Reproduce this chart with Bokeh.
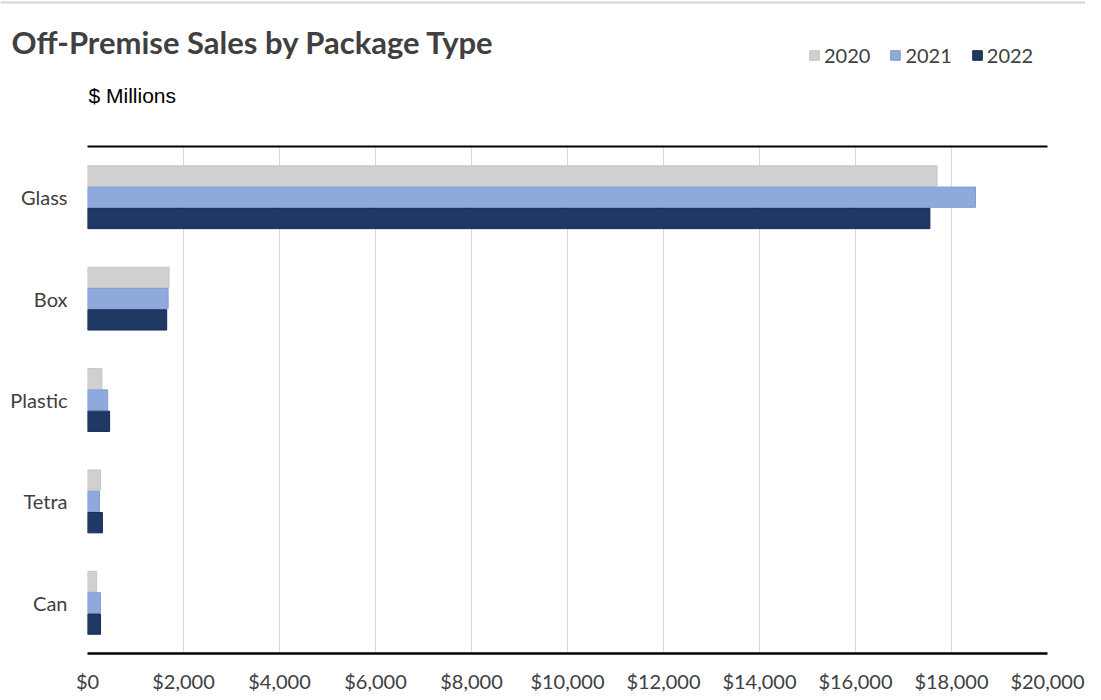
from bokeh.plotting import figure
from bokeh.layouts import column
from bokeh.models import (ColumnDataSource, FactorRange, Range1d, Label, Legend, LegendItem,
                          LinearAxis, FixedTicker, NumeralTickFormatter, Span)
from bokeh.transform import dodge
from bokeh.embed import file_html
from bokeh.resources import INLINE

# ---- data ----
categories = ["Glass", "Box", "Plastic", "Tetra", "Can"]
years = ["2020", "2021", "2022"]
sales_2020 = [17700, 1700, 300, 270, 190]
sales_2021 = [18500, 1680, 420, 250, 270]
sales_2022 = [17550, 1650, 460, 310, 270]
x_ticks = [0, 2000, 4000, 6000, 8000, 10000, 12000, 14000, 16000, 18000, 20000]

title_text = "Off-Premise Sales by Package Type"
unit_text = "$ Millions"

colors = ["#D0D0D0", "#8EA9DB", "#1F3864"]
edge_colors = ["#C6C6C6", "#819DD2", "#152A50"]
offsets = [0.21, 0.0, -0.21]

W = 1085
HEADER_H = 120
MAIN_H = 576

src = ColumnDataSource(dict(cat=categories, y2020=sales_2020, y2021=sales_2021, y2022=sales_2022))

# ---------------- header (title, unit, legend) ----------------
header = figure(width=W, height=HEADER_H, x_range=Range1d(0, W), y_range=Range1d(HEADER_H, 0),
                x_axis_type=None, y_axis_type=None, toolbar_location=None,
                output_backend="svg", min_border=0, title=None)
header.outline_line_color = None
header.background_fill_color = "white"
header.border_fill_color = "white"

header.add_layout(Span(location=2, dimension="width", line_color="#D4D4D4", line_width=2))
header.add_layout(Label(x=11, y=41, text=title_text, text_font="Lato", text_font_style="bold",
                        text_font_size="31px", text_color="#404040", text_baseline="middle"))
header.add_layout(Label(x=88, y=95, text=unit_text, text_font="Liberation Sans",
                        text_font_size="21px", text_color="#000000", text_baseline="middle"))

# legend swatches: hidden renderers that carry the series styles
proxies = []
for yr, col, ec in zip(years, colors, edge_colors):
    proxies.append(header.hbar(y=0, right="y" + yr, left=0, height=0.2, source=src,
                               fill_color=col, line_color=ec, visible=False))

legend = Legend(items=[LegendItem(label=yr, renderers=[r]) for yr, r in zip(years, proxies)],
                orientation="horizontal", location=(808, 53),
                label_text_font="Lato", label_text_font_size="20px", label_text_color="#404040",
                glyph_width=12, glyph_height=12, label_standoff=4, spacing=19,
                padding=0, margin=0, border_line_alpha=0, background_fill_alpha=0, label_height=20,
                inactive_fill_alpha=0)
header.add_layout(legend)

# ---------------- main chart ----------------
p = figure(width=W, height=MAIN_H,
           y_range=FactorRange(factors=list(reversed(categories))),
           x_range=(x_ticks[0], x_ticks[-1]),
           output_backend="svg", toolbar_location=None, title=None,
           min_border_left=87, min_border_right=38, min_border_top=26, min_border_bottom=43)
p.outline_line_color = None
p.background_fill_color = "white"
p.border_fill_color = "white"

for yr, col, ec, off in zip(years, colors, edge_colors, offsets):
    p.hbar(y=dodge("cat", off, range=p.y_range), right="y" + yr, left=0, height=0.2,
           source=src, fill_color=col, line_color=ec, line_width=1)

p.ygrid.grid_line_color = None
p.xgrid.grid_line_color = "#D9D9D9"
p.xgrid.grid_line_width = 1

p.xaxis.ticker = FixedTicker(ticks=x_ticks)
p.xaxis.formatter = NumeralTickFormatter(format="$0,0")
p.xaxis.axis_line_color = "black"
p.xaxis.axis_line_width = 2.5
p.xaxis.major_tick_line_color = None
p.xaxis.minor_tick_line_color = None
p.xaxis.major_label_standoff = 9
p.xaxis.major_label_text_font = "Lato"
p.xaxis.major_label_text_font_size = "20px"
p.xaxis.major_label_text_color = "#404040"

p.yaxis.axis_line_color = None
p.yaxis.major_tick_line_color = None
p.yaxis.minor_tick_line_color = None
p.yaxis.major_label_standoff = 14
p.yaxis.major_label_text_font = "Lato"
p.yaxis.major_label_text_font_size = "20px"
p.yaxis.major_label_text_color = "#404040"

top_axis = LinearAxis(ticker=FixedTicker(ticks=[]), axis_line_color="black", axis_line_width=2,
                      major_tick_line_color=None, minor_tick_line_color=None,
                      major_label_text_font_size="0px", major_label_standoff=0)
p.add_layout(top_axis, "above")

# keep the header's frame independent of the chart's frame
for fig in (header, p):
    if hasattr(fig, "frame_align"):
        fig.frame_align = False

layout = column(header, p, spacing=0)
open("out.html", "w").write(file_html(layout, INLINE))
